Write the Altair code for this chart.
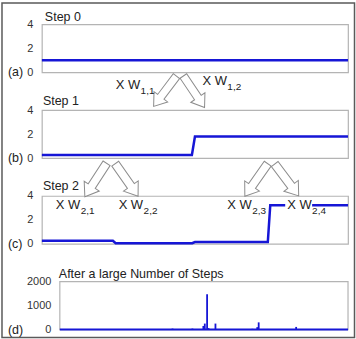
import altair as alt
import pandas as pd

FONT = "Liberation Sans"
BLUE = "#1616d6"
FRAME = "#b4b4b4"
TXT = "#222222"
EDGE = "#8c8c8c"
BORDER = "#5a5a5a"

PW, PH = 307, 48
GAP = 38

# ---------------- data ----------------
titles = ["Step 0", "Step 1", "Step 2", "After a large Number of Steps"]
tags = ["(a)", "(b)", "(c)", "(d)"]
step_ticks = [0, 2, 4]
big_ticks = [0, 1000, 2000]

a_x = [0.0, 1.0]
a_y = [1.0, 1.0]
b_x = [0.0, 0.49, 0.50, 1.0]
b_y = [0.25, 0.25, 1.8, 1.8]
c_x = [0.0, 0.232, 0.241, 0.491, 0.50, 0.738, 0.746, 1.0]
c_y = [0.25, 0.25, 0.05, 0.05, 0.15, 0.15, 3.22, 3.22]
d_base_x = [0.0, 1.0]
d_base_y = [0, 0]
d_spike_x = [0.391, 0.460, 0.498, 0.503, 0.511, 0.516, 0.540, 0.581, 0.592, 0.668, 0.685, 0.690, 0.820]
d_spike_v = [40, 40, 150, 250, 1470, 60, 250, 20, 20, 30, 100, 300, 110]

w_sub = ["1,1", "1,2", "2,1", "2,2", "2,3", "2,4"]

# ---------------- layout (figure pixels) ----------------
ORIGIN_X = 41
ORIGIN_Y = [24, 24 + PH + GAP, 24 + 2 * (PH + GAP), 24 + 3 * (PH + GAP)]
# panel title: left x, baseline y
title_pos = [(44, 20.5), (42, 104.5), (42, 190.5), (58, 278.5)]
# label: subscript left x, main baseline y, panel index it is drawn in
w_pos = [(140, 89, 1), (227, 85, 1), (80, 209, 2), (143, 209, 2), (252, 209, 2), (312, 209, 2)]
# arrows: center x, center y, angle, length, panel index
arrows = [(164.5, 91, 37, 38, 1), (193.5, 91.5, 326, 38, 1),
          (95, 180, 33, 40, 2), (126, 180, 325, 40, 2),
          (256, 180, 35, 40, 2), (286.5, 180, 323, 40, 2)]
ARROW = "M -0.21 -1 L 0.21 -1 L 0.21 0.37 L 0.45 0.37 L 0 1 L -0.45 0.37 L -0.21 0.37 Z"
D_SHIFT = 18  # panel (d) plot starts further right

one = pd.DataFrame({"k": [0]})


def rel(x, y, p):
    return x - ORIGIN_X, y - ORIGIN_Y[p]


def text(txt, x, y, size=12.5, align="left", baseline="alphabetic"):
    return alt.Chart(one).mark_text(
        text=txt, align=align, baseline=baseline, fontSize=size, font=FONT, color=TXT
    ).encode(x=alt.value(x), y=alt.value(y))


def annotations(p):
    layers = []
    tx, ty = rel(*title_pos[p], p)
    layers.append(text(titles[p], tx, ty))
    layers.append(text(tags[p], 7 - ORIGIN_X, PH, baseline="middle"))
    for (cx, cy, ang, ln, pi) in arrows:
        if pi != p:
            continue
        rx, ry = rel(cx, cy, p)
        layers.append(alt.Chart(one).mark_point(
            shape=ARROW, size=ln * ln, angle=ang, filled=True, fill="white",
            stroke=EDGE, strokeWidth=1, opacity=1, fillOpacity=1
        ).encode(x=alt.value(rx), y=alt.value(ry)))
    for (sx, by, pi), sub in zip(w_pos, w_sub):
        if pi != p:
            continue
        rx, ry = rel(sx, by, p)
        if sub == "2,4":
            layers.append(alt.Chart(one).mark_rect(fill="white").encode(
                x=alt.value(rx - 27), x2=alt.value(rx), y=alt.value(ry - 10), y2=alt.value(ry + 2)))
        layers.append(text("X W", rx - 0.5, ry, size=13, align="right"))
        layers.append(text(sub, rx, ry + 5, size=10))
    return layers


def box(x1, x2, y1, y2, color, width):
    return alt.Chart(one).mark_rect(fillOpacity=0, stroke=color, strokeWidth=width).encode(
        x=alt.value(x1), x2=alt.value(x2), y=alt.value(y1), y2=alt.value(y2))


def step_panel(p, xs, ys, extra=()):
    df = pd.DataFrame({"x": xs, "y": ys})
    line = alt.Chart(df).mark_line(color=BLUE, strokeWidth=2.5).encode(
        x=alt.X("x:Q", scale=alt.Scale(domain=[0, 1]), axis=None),
        y=alt.Y("y:Q", scale=alt.Scale(domain=[0, 4], nice=False),
                axis=alt.Axis(values=step_ticks, title=None)),
    )
    layers = list(extra) + [line] + annotations(p)
    return alt.layer(*layers).properties(width=PW, height=PH)


# outer figure border (figure px: left 1, top 2.5, right 354.5, bottom 338)
border = box(1 - ORIGIN_X, 354.5 - ORIGIN_X, 2.5 - ORIGIN_Y[0], 338 - ORIGIN_Y[0], BORDER, 1.5)

pa = step_panel(0, a_x, a_y, extra=[border])
pb = step_panel(1, b_x, b_y)
pc = step_panel(2, c_x, c_y)

# panel d
xs_d = alt.Scale(domain=[0, 1], range=[D_SHIFT, PW])
ys_d = alt.Scale(domain=[0, 2000], nice=False)
ax_d = alt.Axis(values=big_ticks, title=None, offset=-D_SHIFT, format="d", labelOverlap=False)
base_df = pd.DataFrame({"x": d_base_x, "y": d_base_y})
spk_df = pd.DataFrame({"x": d_spike_x, "v": d_spike_v, "z": [0] * len(d_spike_x)})
frame_d = box(D_SHIFT, PW, 0, PH, FRAME, 1.2)
base_d = alt.Chart(base_df).mark_line(color=BLUE, strokeWidth=2).encode(
    x=alt.X("x:Q", scale=xs_d, axis=None),
    y=alt.Y("y:Q", scale=ys_d, axis=ax_d),
)
spk_d = alt.Chart(spk_df).mark_rule(color=BLUE, strokeWidth=1.8).encode(
    x=alt.X("x:Q", scale=xs_d, axis=None),
    y=alt.Y("v:Q", scale=ys_d, axis=ax_d),
    y2="z:Q",
)
pd_ = alt.layer(frame_d, base_d, spk_d, *annotations(3)).properties(
    width=PW, height=PH,
    view=alt.ViewBackground(strokeOpacity=0),
)

chart = alt.vconcat(pa, pb, pc, pd_, spacing=GAP, bounds="flush").properties(
    padding={"left": 0, "top": 1, "right": 0, "bottom": 0},
    background="white",
).configure(font=FONT).configure_view(
    stroke=FRAME, strokeWidth=1.2
).configure_axis(
    domain=False, ticks=False, tickSize=0, grid=False, labelPadding=9,
    labelFontSize=11, labelColor="#333333", labelFont=FONT, labelOverlap=False,
)

chart.save("out.html", embed_options={"renderer": "svg", "actions": False})
